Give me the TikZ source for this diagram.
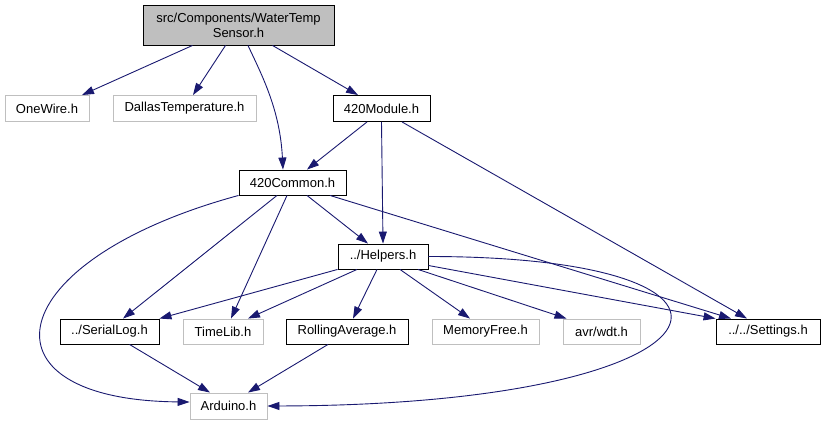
\documentclass[tikz,border=0pt]{standalone}
\usepackage{fontspec}
\setmainfont{Liberation Sans}
\usepackage{xcolor}
\usetikzlibrary{arrows.meta}

\definecolor{edgeblue}{HTML}{191970}
\definecolor{boxgray}{HTML}{BFBFBF}

\tikzset{
  file/.style={draw, line width=0.9pt, inner sep=0pt, minimum height=26pt,
    font=\fontsize{13}{15}\selectfont},
  hdr/.style={file, draw=black},
  ext/.style={file, draw=boxgray},
  incl/.style={draw=edgeblue, line width=0.9pt,
    -{Triangle[length=12pt,width=8pt]}}
}

\begin{document}
\begin{tikzpicture}[x=1pt,y=-1pt]

\useasboundingbox (0,0) rectangle (827,425);

% Nodes
\node[hdr, fill=boxgray, minimum width=191pt, minimum height=40pt, align=center]
  (wts) at (238.5,25) {src/Components/WaterTemp\\Sensor.h};
\node[ext, minimum width=84pt]  (onewire) at (47,108.5)    {OneWire.h};
\node[ext, minimum width=143pt] (dallas)  at (184.5,108.5) {DallasTemperature.h};
\node[hdr, minimum width=97pt]  (module)  at (381.5,108.5) {420Module.h};
\node[hdr, minimum width=107pt, minimum height=25pt] (common)  at (292.5,182.5) {420Common.h};
\node[hdr, minimum width=90pt, minimum height=25pt]  (helpers) at (383,256.5)   {../Helpers.h};

\node[hdr, minimum width=99pt, minimum height=25pt]  (seriallog) at (109.5,331.5) {../SerialLog.h};
\node[ext, minimum width=80pt, minimum height=25pt]  (timelib)   at (223,331.5)   {TimeLib.h};
\node[hdr, minimum width=122pt, minimum height=25pt] (rolling)   at (347,331.5)   {RollingAverage.h};
\node[ext, minimum width=107pt, minimum height=25pt] (memfree)   at (485.5,331.5) {MemoryFree.h};
\node[ext, minimum width=77pt, minimum height=25pt]  (wdt)       at (601.5,331.5) {avr/wdt.h};
\node[hdr, minimum width=104pt, minimum height=25pt] (settings)  at (768,331.5)   {../../Settings.h};
\node[ext, minimum width=77pt]  (arduino) at (228.5,406) {Arduino.h};

% Includes of WaterTempSensor.h
\draw[incl] ([xshift=-46pt]wts.south) -- ([xshift=35pt]onewire.north);
\draw[incl] ([xshift=-13pt]wts.south) -- ([xshift=8.5pt]dallas.north);
\draw[incl] ([xshift=9.5pt]wts.south) .. controls +(14,30) and +(-3,-60) .. ([xshift=-9.5pt]common.north);
\draw[incl] ([xshift=34pt]wts.south) -- ([xshift=-23.5pt]module.north);

% Includes of 420Module.h
\draw[incl] ([xshift=-14.5pt]module.south) -- ([xshift=14.5pt]common.north);
\draw[incl] (module.south) -- (helpers.north);
\draw[incl] ([xshift=20.5pt]module.south) -- ([xshift=-21pt]settings.north);

% Includes of 420Common.h
\draw[incl] (common.south west) .. controls +(-239,65) and +(-218,-2) .. ([yshift=4pt]arduino.west);
\draw[incl] ([xshift=-15.5pt]common.south) -- ([xshift=13.5pt]seriallog.north);
\draw[incl] ([xshift=-5.5pt]common.south) -- ([xshift=8pt]timelib.north);
\draw[incl] ([xshift=14.5pt]common.south) -- ([xshift=-15pt]helpers.north);
\draw[incl] ([xshift=37.5pt]common.south) -- ([xshift=-37pt]settings.north);

% Includes of Helpers.h
\draw[incl] (helpers.south west) -- (seriallog.north east);
\draw[incl] ([xshift=-26pt]helpers.south) -- ([xshift=25pt]timelib.north);
\draw[incl] ([xshift=-6pt]helpers.south) -- ([xshift=6pt]rolling.north);
\draw[incl] ([xshift=17pt]helpers.south) -- ([xshift=-15.5pt]memfree.north);
\draw[incl] ([xshift=35pt]helpers.south) -- ([xshift=-35pt]wdt.north);
\draw[incl] ([yshift=-9pt]helpers.east) -- (settings.north west);
\draw[incl] (helpers.east) .. controls +(372,0) and +(473,-1) .. (arduino.east);

% Into Arduino.h
\draw[incl] ([xshift=20pt]seriallog.south) -- ([xshift=-18.5pt]arduino.north);
\draw[incl] ([xshift=-19pt]rolling.south) -- ([xshift=19.5pt]arduino.north);

\end{tikzpicture}
\end{document}
